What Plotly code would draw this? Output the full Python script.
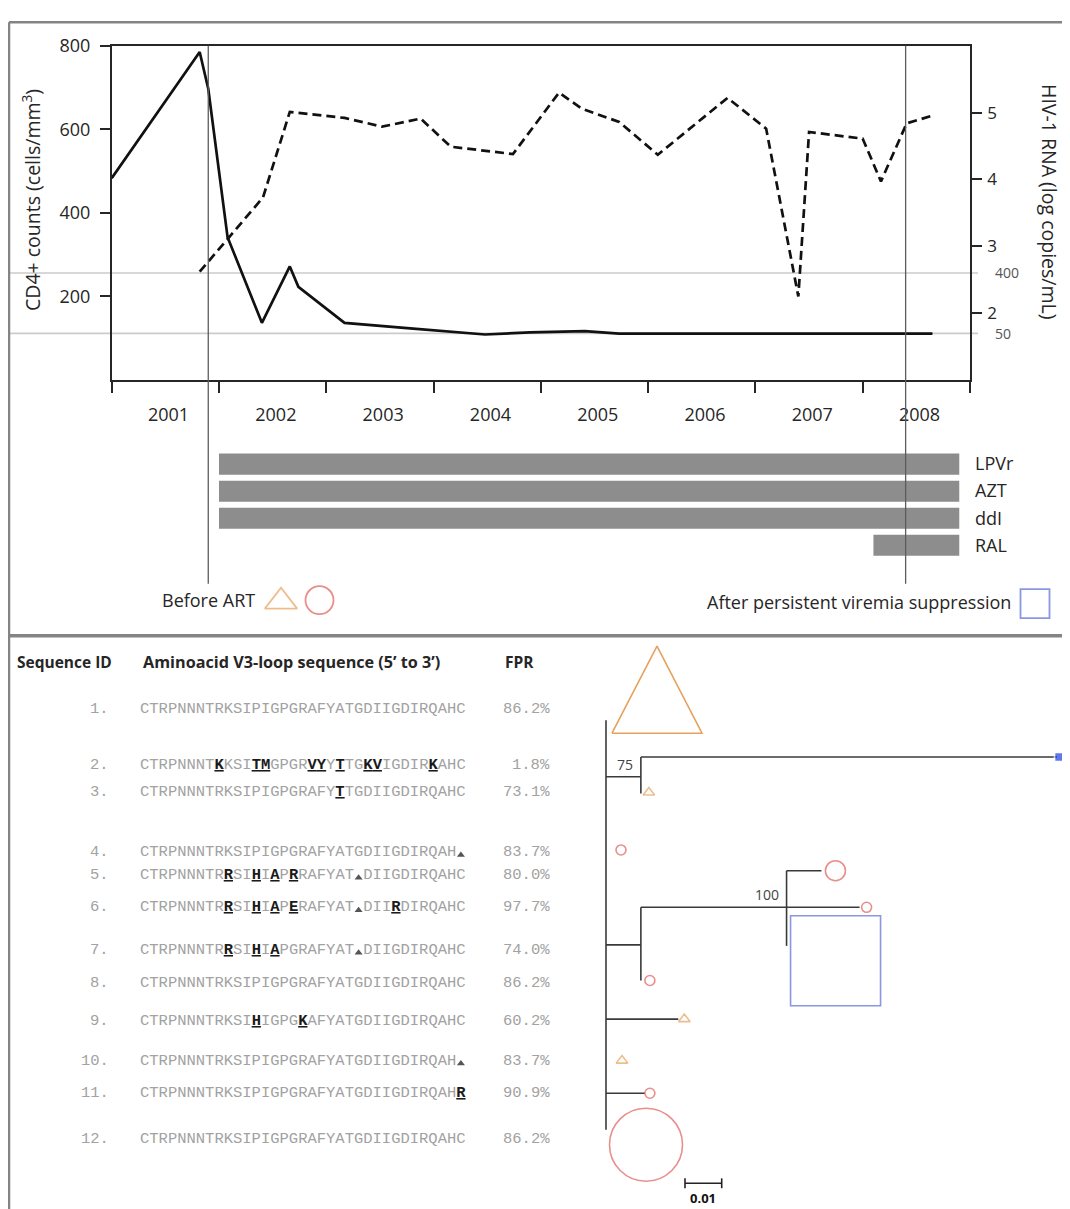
import numpy as np
import plotly.graph_objects as go

# ================= Panel A: clinical follow-up =================
cd4_year = [2001.00, 2001.82, 2001.90, 2002.08, 2002.40, 2002.66, 2002.74, 2003.17,
            2003.81, 2004.48, 2004.90, 2005.41, 2005.73, 2008.65]
cd4_count = [483, 785, 697, 342, 137, 272, 223, 137, 123, 109, 114, 117, 111, 111]

rna_year = [2001.82, 2002.41, 2002.66, 2003.17, 2003.52, 2003.88, 2004.16, 2004.74,
            2005.17, 2005.38, 2005.73, 2006.09, 2006.74, 2007.10, 2007.40, 2007.50,
            2008.00, 2008.17, 2008.41, 2008.64]
rna_log = [2.62, 3.73, 5.01, 4.92, 4.79, 4.91, 4.49, 4.38,
           5.30, 5.06, 4.86, 4.37, 5.22, 4.76, 2.25, 4.71,
           4.61, 3.97, 4.84, 4.95]

year_edges = list(range(2001, 2010))
year_labels = [str(y) for y in range(2001, 2009)]
cd4_ticks = [200, 400, 600, 800]
rna_ticks = [2, 3, 4, 5]
rna_thresholds = [400, 50]          # copies/mL detection limits
art_start = 2001.90
viremia_suppressed = 2008.40

drugs = ["LPVr", "AZT", "ddI", "RAL"]
drug_start = [2002.0, 2002.0, 2002.0, 2008.1]
drug_end = [2008.9, 2008.9, 2008.9, 2008.9]

# ================= Panel B: V3-loop sequences =================
# lowercase = mutated residue (bold/underlined), '-' = deletion
seq_ids = [f"{i}." for i in range(1, 13)]
sequences = [
    "CTRPNNNTRKSIPIGPGRAFYATGDIIGDIRQAHC",
    "CTRPNNNTkKSItmGPGRvyYtTGkvIGDIRkAHC",
    "CTRPNNNTRKSIPIGPGRAFYtTGDIIGDIRQAHC",
    "CTRPNNNTRKSIPIGPGRAFYATGDIIGDIRQAH-",
    "CTRPNNNTRrSIhIaPrRAFYAT-DIIGDIRQAHC",
    "CTRPNNNTRrSIhIaPeRAFYAT-DIIrDIRQAHC",
    "CTRPNNNTRrSIhIaPGRAFYAT-DIIGDIRQAHC",
    "CTRPNNNTRKSIPIGPGRAFYATGDIIGDIRQAHC",
    "CTRPNNNTRKSIhIGPGkAFYATGDIIGDIRQAHC",
    "CTRPNNNTRKSIPIGPGRAFYATGDIIGDIRQAH-",
    "CTRPNNNTRKSIPIGPGRAFYATGDIIGDIRQAHr",
    "CTRPNNNTRKSIPIGPGRAFYATGDIIGDIRQAHC",
]
fpr = ["86.2%", "1.8%", "73.1%", "83.7%", "80.0%", "97.7%",
       "74.0%", "86.2%", "60.2%", "83.7%", "90.9%", "86.2%"]

# phylogenetic tree (branch lengths in substitutions/site)
tree_internal = {"A": ("root", 0.0095), "B": ("root", 0.0095), "C": ("B", 0.0397)}
internal_pos = {"A": 772, "B": 942, "C": 904}          # vertical slot of each internal node
tip_parent = ["root", "A", "A", "root", "C", "C", "C", "B", "root", "root", "root", "root"]
tip_length = [0.0, 0.1134, 0.0, 0.0, 0.0095, 0.0199, 0.0, 0.0, 0.0197, 0.0, 0.0106, 0.0]
tip_pos = [715, 752, 789, 846, 867, 904, 943, 978, 1017, 1059, 1092, 1129]
bootstrap = {"A": "75", "C": "100"}
scale_len = 0.01

# ================= styling / layout constants =================
ORANGE = "#E6A15E"
RED = "#DE5F5A"
BLUE = "#5B6BD6"
BLUE_FILL = "#1E3FE6"
INK = "#262626"
REFLINE = "#cbcbcb"
BORDER = "#848484"
SEQ_GRAY = "#a2a2a2"
SANS = "Open Sans, sans-serif"
MONO = "Liberation Mono, monospace"

PAGE_W, PAGE_H = 1070, 1209
OFF = 8                                  # page body margin
FW, FH = PAGE_W - OFF, PAGE_H - OFF      # figure reaches the window's right/bottom edge

PL, PR, PT, PB = 111.7, 970.0, 33.0, 371.0
TREE_X0 = 606.0          # pixel of tree root
PXU = 3670.0             # pixels per substitution/site
ROW_Y = [704, 760, 787, 848, 871, 904, 947, 981, 1019, 1059, 1092, 1138]
SEQ_X, ID_X, FPR_X = 140.0, 109.0, 550.0
MONO_SIZE = 15.5
CHAR_W = 0.60009765625 * MONO_SIZE

# per-tip symbol style: (symbol, size, colour, dx px, dy px)
tip_style = [
    ("bigtri", 90, ORANGE, 51, -31),
    ("square", 9, BLUE_FILL, 2, 0),
    ("triangle-up-open", 10, ORANGE, 8, -1),
    ("circle-open", 10, RED, 15, 0),
    ("circle-open", 20, RED, 14, 0),
    ("circle-open", 10, RED, 7, 0),
    ("square-open", 90, BLUE, 49, 15),
    ("circle-open", 10, RED, 9, 0),
    ("triangle-up-open", 10, ORANGE, 6, 0),
    ("triangle-up-open", 10, ORANGE, 16, 0),
    ("circle-open", 10, RED, 5, 0),
    ("circle-open", 73, RED, 40, 15),
]


def pxp(p):
    return (p - OFF) / FW


def pyp(p):
    return 1 - (p - OFF) / FH


fig = go.Figure()

# ---- clinical lines ----
fig.add_trace(go.Scatter(x=cd4_year, y=cd4_count, mode="lines",
                         line=dict(color="#111", width=2.7), xaxis="x", yaxis="y"))
fig.add_trace(go.Scatter(x=rna_year, y=rna_log, mode="lines",
                         line=dict(color="#111", width=2.7, dash="9px,5px"), xaxis="x", yaxis="y2"))

# ---- therapy bars ----
fig.add_trace(go.Bar(y=drugs, x=[e - s for s, e in zip(drug_start, drug_end)], base=drug_start,
                     orientation="h", width=0.78, marker=dict(color="#8d8d8d", line=dict(width=0)),
                     xaxis="x", yaxis="y3"))

# ---- legend-like symbols ----
fig.add_trace(go.Scatter(x=[281, 319.5, 1035], y=[595, 593.5, 597], mode="markers",
                         marker=dict(symbol=["triangle-up-open", "circle-open", "square-open"],
                                     size=[28, 28, 29], color=[ORANGE, RED, BLUE], line=dict(width=1.8)),
                         xaxis="x3", yaxis="y4", cliponaxis=False))

# ---- tree ----
def node_x(n):
    if n == "root":
        return 0.0
    par, ln = tree_internal[n]
    return node_x(par) + ln

lx, ly = [], []
children_pos = {"root": [], "A": [], "B": [], "C": []}
for n, (par, ln) in tree_internal.items():
    lx += [node_x(par), node_x(n), None]
    ly += [internal_pos[n], internal_pos[n], None]
    children_pos[par].append(internal_pos[n])
for i in range(12):
    par = tip_parent[i]
    children_pos[par].append(tip_pos[i])
    if tip_length[i] > 0:
        lx += [node_x(par), node_x(par) + tip_length[i], None]
        ly += [tip_pos[i], tip_pos[i], None]
for n, ys in children_pos.items():
    lx += [node_x(n), node_x(n), None]
    ly += [min(ys), max(ys), None]
fig.add_trace(go.Scatter(x=lx, y=ly, mode="lines", line=dict(color="#3a3a3a", width=1.6),
                         xaxis="x2", yaxis="y4", cliponaxis=False))

mx, my, msym, msize, mcol = [], [], [], [], []
for i in range(12):
    sym, size, col, dx, dy = tip_style[i]
    tx = node_x(tip_parent[i]) + tip_length[i] + dx / PXU
    ty = tip_pos[i] + dy
    if sym == "bigtri":
        half_w = size / 2 / PXU
        h = 88
        fig.add_trace(go.Scatter(x=[tx - half_w, tx + half_w, tx, tx - half_w],
                                 y=[ty + h / 2, ty + h / 2, ty - h / 2, ty + h / 2],
                                 mode="lines", line=dict(color=col, width=1.6),
                                 xaxis="x2", yaxis="y4", cliponaxis=False))
    else:
        mx.append(tx); my.append(ty); msym.append(sym); msize.append(size); mcol.append(col)
fig.add_trace(go.Scatter(x=mx, y=my, mode="markers",
                         marker=dict(symbol=msym, size=msize, color=mcol, line=dict(width=1.6)),
                         xaxis="x2", yaxis="y4", cliponaxis=False))

# scale bar
sb_x0, sb_y = (685 - TREE_X0) / PXU, 1183
fig.add_trace(go.Scatter(x=[sb_x0, sb_x0 + scale_len, None, sb_x0, sb_x0, None, sb_x0 + scale_len, sb_x0 + scale_len],
                         y=[sb_y, sb_y, None, sb_y - 5, sb_y + 5, None, sb_y - 5, sb_y + 5],
                         mode="lines", line=dict(color="#222", width=1.6), xaxis="x2", yaxis="y4"))

# deletion markers in sequences
dx_, dy_ = [], []
for r, s in enumerate(sequences):
    for i, ch in enumerate(s):
        if ch == "-":
            dx_.append(SEQ_X + (i + 0.5) * CHAR_W)
            dy_.append(ROW_Y[r] + 3)
fig.add_trace(go.Scatter(x=dx_, y=dy_, mode="markers",
                         marker=dict(symbol="triangle-up", size=7, color="#555"),
                         xaxis="x3", yaxis="y4"))

# ================= annotations =================
ann = []
ann.append(dict(text="CD4+ counts (cells/mm<sup>3</sup>)", x=pxp(31), y=pyp(189), xref="paper", yref="paper",
                xanchor="center", yanchor="middle",
                textangle=-90, showarrow=False, font=dict(size=19.5, color=INK)))
ann.append(dict(text="HIV-1 RNA (log copies/mL)", x=pxp(1050), y=pyp(190), xref="paper", yref="paper",
                xanchor="center", yanchor="middle",
                textangle=90, showarrow=False, font=dict(size=19.5, color=INK)))
for v in rna_thresholds:
    ann.append(dict(text=str(v), x=pxp(993), y=np.log10(v), xref="paper", yref="y2", xanchor="left",
                    yanchor="middle", showarrow=False, font=dict(size=14, color="#555")))
ann.append(dict(text="Before ART", x=160, y=593, xref="x3", yref="y4", xanchor="left", yanchor="middle",
                showarrow=False, font=dict(size=18, color=INK)))
ann.append(dict(text="After persistent viremia suppression", x=1013, y=595, xref="x3", yref="y4",
                xanchor="right", yanchor="middle", showarrow=False, font=dict(size=18, color=INK)))

# table headers
for txt, x, fs in [("Sequence ID", 15, 15.5), ("Aminoacid V3-loop sequence (5’ to 3’)", 141, 16.2),
                   ("FPR", 503, 15.5)]:
    ann.append(dict(text=f"<b>{txt}</b>", x=x, y=656, xref="x3", yref="y4", xanchor="left",
                    yanchor="middle", showarrow=False, font=dict(size=fs, color=INK, family=SANS)))

def render(seq):
    out = []
    for ch in seq:
        if ch == "-":
            out.append("\u00a0")
        elif ch.islower():
            out.append(f'<span style="color:#1a1a1a"><b><u>{ch.upper()}</u></b></span>')
        else:
            out.append(ch)
    return "".join(out)

mono = dict(family=MONO, size=MONO_SIZE, color=SEQ_GRAY)
for r in range(12):
    common = dict(y=ROW_Y[r], xref="x3", yref="y4", yanchor="middle", showarrow=False,
                  font=mono, borderpad=0, borderwidth=0)
    ann.append(dict(text=seq_ids[r], x=ID_X, xanchor="right", **common))
    ann.append(dict(text=render(sequences[r]), x=SEQ_X, xanchor="left", **common))
    ann.append(dict(text=fpr[r], x=FPR_X, xanchor="right", **common))

# bootstrap values
for n, lab in bootstrap.items():
    ann.append(dict(text=lab, x=node_x(n), y=internal_pos[n], xref="x2", yref="y4", xanchor="right",
                    yanchor="bottom", xshift=-6, yshift=1, showarrow=False,
                    font=dict(size=14, color="#444")))
ann.append(dict(text="<b>0.01</b>", x=sb_x0 + scale_len / 2, y=1198, xref="x2", yref="y4",
                xanchor="center", yanchor="middle", borderpad=0, borderwidth=0,
                showarrow=False, font=dict(size=13, color="#111")))

# ================= shapes =================
shapes = []
for v in rna_thresholds:
    shapes.append(dict(type="line", xref="paper", yref="y2", x0=pxp(8), x1=pxp(978),
                       y0=np.log10(v), y1=np.log10(v), line=dict(color=REFLINE, width=1.6), layer="below"))
for ev in [art_start, viremia_suppressed]:
    shapes.append(dict(type="line", xref="x", yref="paper", x0=ev, x1=ev, y0=pyp(577), y1=pyp(PT),
                       line=dict(color="#5c5c5c", width=1.3)))
# panel frames
top_y = 1 - 1.3 / FH
shapes.append(dict(type="line", xref="paper", yref="paper", x0=pxp(9), x1=1.0, y0=top_y, y1=top_y,
                   line=dict(color=BORDER, width=2.5)))
shapes.append(dict(type="line", xref="paper", yref="paper", x0=pxp(9), x1=pxp(9), y0=0, y1=top_y,
                   line=dict(color=BORDER, width=2.5)))
shapes.append(dict(type="line", xref="paper", yref="paper", x0=pxp(9), x1=1.0, y0=pyp(629.5), y1=pyp(629.5),
                   line=dict(color=BORDER, width=3.5)))

tree_range = [(OFF - TREE_X0) / PXU, (OFF + FW - TREE_X0) / PXU]
axline = dict(showline=True, linecolor=INK, linewidth=1.6, showgrid=False, zeroline=False)

fig.update_layout(
    width=FW, height=FH, autosize=False, margin=dict(l=0, r=0, t=0, b=0),
    paper_bgcolor="white", plot_bgcolor="rgba(0,0,0,0)", showlegend=False,
    font=dict(family=SANS, size=18, color=INK),
    xaxis=dict(domain=[pxp(PL), pxp(PR)], range=[2001, 2009], anchor="y", mirror=True,
               tickmode="array", tickvals=[y + 0.53 for y in range(2001, 2009)], ticktext=year_labels,
               ticks="", ticklabelstandoff=18,
               minor=dict(tickmode="array", tickvals=year_edges, ticks="outside", ticklen=11,
                          tickwidth=1.6, tickcolor=INK, showgrid=False),
               **axline),
    yaxis=dict(domain=[pyp(PB), pyp(PT)], range=[0, 800], anchor="x", tickmode="array",
               tickvals=cd4_ticks, ticks="outside", ticklen=10, tickwidth=1.6, tickcolor=INK,
               ticklabelstandoff=6, ticklabeloverflow="allow", **axline),
    yaxis2=dict(overlaying="y", side="right", anchor="x", range=[1, 6], tickmode="array",
                tickvals=rna_ticks, ticks="outside", ticklen=10, tickwidth=1.6, tickcolor=INK,
                ticklabelstandoff=2, tickfont=dict(size=17), **axline),
    yaxis3=dict(domain=[pyp(551.7), pyp(442.3)], anchor="x", side="right", type="category",
                categoryorder="array", categoryarray=drugs, range=[3.5, -0.5],
                showline=False, ticks="", showgrid=False, zeroline=False, ticklabelstandoff=4),
    xaxis2=dict(domain=[0, 1], range=tree_range, anchor="y4", visible=False),
    xaxis3=dict(domain=[0, 1], range=[OFF, OFF + FW], anchor="y4", visible=False),
    yaxis4=dict(domain=[0, 1], range=[OFF + FH, OFF], anchor="x3", visible=False),
    annotations=ann, shapes=shapes,
)

fig.write_html("out.html")
